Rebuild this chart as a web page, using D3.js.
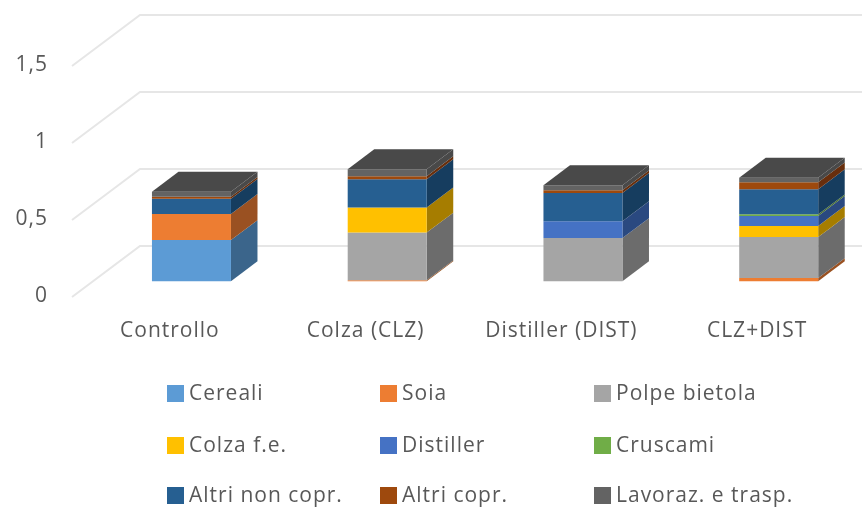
<!DOCTYPE html>
<html>
<head>
<meta charset="utf-8">
<script src="https://cdn.jsdelivr.net/npm/d3@7"></script>
<style>
  html, body { margin: 0; padding: 0; background: #fff; }
  svg { display: block; }
  text { font-family: "Open Sans", Lato, sans-serif; fill: #595959; letter-spacing: 1px; }
</style>
</head>
<body>
<div id="chart"></div>
<script>
// values
var categories = ["Controllo", "Colza (CLZ)", "Distiller (DIST)", "CLZ+DIST"];
var seriesNames = ["Cereali", "Soia", "Polpe bietola", "Colza f.e.", "Distiller", "Cruscami", "Altri non copr.", "Altri copr.", "Lavoraz. e trasp."];
var seriesColors = ["#5b9bd5", "#ed7d31", "#a5a5a5", "#ffc000", "#4472c4", "#70ad47", "#255e91", "#9e480e", "#636363"];
var cereali = [0.267, 0, 0, 0];
var soia = [0.17, 0.006, 0, 0.02];
var polpe = [0, 0.31, 0.28, 0.267];
var colza = [0, 0.163, 0, 0.072];
var distiller = [0, 0, 0.11, 0.065];
var cruscami = [0, 0, 0, 0.01];
var altriNonCopr = [0.098, 0.183, 0.183, 0.163];
var altriCopr = [0.013, 0.02, 0.017, 0.045];
var lavoraz = [0.033, 0.045, 0.033, 0.03];
var tickValues = [0, 0.5, 1, 1.5];
var tickLabels = ["0", "0,5", "1", "1,5"];

var width = 862, height = 509;
var depthX = 68, depthY = 51;      // floor depth of the fake 3D box
var barFront = 0.31, barBack = 0.70; // where the bars sit inside that depth

var svg = d3.select("#chart").append("svg")
    .attr("width", width)
    .attr("height", height);

// the reference is a soft upscaled screenshot
var defs = svg.append("defs");
defs.append("filter").attr("id", "soft")
    .attr("x", "-2%").attr("y", "-2%").attr("width", "104%").attr("height", "104%")
    .append("feGaussianBlur").attr("stdDeviation", 0.55);

var root = svg.append("g").attr("filter", "url(#soft)");

var x = d3.scaleBand().domain(categories).range([72, 855]).paddingInner(0).paddingOuter(0);
var y = d3.scaleLinear().domain([0, 1.5]).range([297, 66]);
var barWidth = 79;

// project a plot position to the screen, d = depth from 0 to 1
function pt(px, v, d) {
    return [px + depthX * d, y(v) - depthY * d];
}
var line = d3.line();

// gridlines
root.append("g").selectAll("path")
    .data(tickValues)
    .enter().append("path")
    .attr("d", function(v) {
        return line([pt(x.range()[0], v, 0), pt(x.range()[0], v, 1), pt(x.range()[1], v, 1)]);
    })
    .attr("fill", "none")
    .attr("stroke", "#e6e6e6")
    .attr("stroke-width", 2);

// y axis labels
var yAxis = d3.axisLeft(y)
    .tickValues(tickValues)
    .tickSize(0)
    .tickPadding(3)
    .tickFormat(function(d, i) { return tickLabels[i]; });
var axisG = root.append("g")
    .attr("transform", "translate(51,-2)")
    .call(yAxis);
axisG.select(".domain").remove();
axisG.selectAll("text").attr("font-size", 21).style("font-family", null);

// stack
var rows = categories.map(function(c, i) {
    return {
        category: c,
        "Cereali": cereali[i], "Soia": soia[i], "Polpe bietola": polpe[i],
        "Colza f.e.": colza[i], "Distiller": distiller[i], "Cruscami": cruscami[i],
        "Altri non copr.": altriNonCopr[i], "Altri copr.": altriCopr[i], "Lavoraz. e trasp.": lavoraz[i]
    };
});
var stacked = d3.stack().keys(seriesNames)(rows);
var color = d3.scaleOrdinal().domain(seriesNames).range(seriesColors);
var topColor = d3.color(seriesColors[8]).darker(0.85);

function barLeft(d) {
    return x(d.data.category) + (x.bandwidth() - barWidth) / 2 + 0.5;
}

var layers = root.append("g").selectAll("g")
    .data(stacked)
    .enter().append("g");

// side faces
layers.selectAll("path.side")
    .data(function(s) {
        return s.filter(function(d) { return d[1] > d[0]; }).map(function(d) {
            d.key = s.key; return d;
        });
    })
    .enter().append("path")
    .attr("class", "side")
    .attr("fill", function(d) {
        // the top layer side melts into the top face
        return d.key === seriesNames[8] ? topColor : d3.color(color(d.key)).darker(1.2);
    })
    .attr("d", function(d) {
        var r = barLeft(d) + barWidth;
        return line([pt(r, d[0], barFront), pt(r, d[0], barBack), pt(r, d[1], barBack), pt(r, d[1], barFront)]) + "Z";
    });

// front faces
layers.selectAll("path.front")
    .data(function(s) { return s.filter(function(d) { return d[1] > d[0]; }); })
    .enter().append("path")
    .attr("class", "front")
    .attr("fill", function(d) { return color(d.key); })
    .attr("d", function(d) {
        var l = barLeft(d), r = l + barWidth;
        return line([pt(l, d[0], barFront), pt(r, d[0], barFront), pt(r, d[1], barFront), pt(l, d[1], barFront)]) + "Z";
    });

// top faces, only on the last layer
root.append("g").selectAll("path")
    .data(stacked[stacked.length - 1])
    .enter().append("path")
    .attr("fill", topColor)
    .attr("d", function(d) {
        var l = barLeft(d), r = l + barWidth;
        return line([pt(l, d[1], barFront), pt(r, d[1], barFront), pt(r, d[1], barBack), pt(l, d[1], barBack)]) + "Z";
    });

// category labels
root.append("g").selectAll("text")
    .data(categories)
    .enter().append("text")
    .attr("x", function(d) { return x(d) + x.bandwidth() / 2; })
    .attr("y", 337)
    .attr("text-anchor", "middle")
    .attr("font-size", 21)
    .text(function(d) { return d; });

// legend, 3 columns by 3 rows
var legendCols = [167, 380, 594];
var legendRows = [385, 437, 487];
var legend = root.append("g").selectAll("g")
    .data(seriesNames)
    .enter().append("g")
    .attr("transform", function(d, i) {
        return "translate(" + legendCols[i % 3] + "," + legendRows[Math.floor(i / 3)] + ")";
    });
legend.append("rect")
    .attr("width", 17)
    .attr("height", 17)
    .attr("fill", function(d) { return color(d); });
legend.append("text")
    .attr("x", 22)
    .attr("y", 15)
    .attr("font-size", 21)
    .text(function(d) { return d; });
</script>
</body>
</html>
